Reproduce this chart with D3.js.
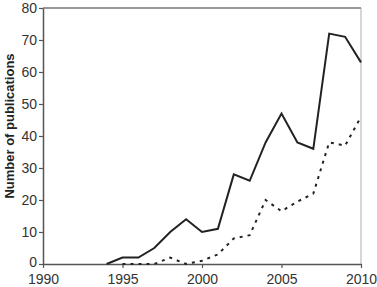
<!DOCTYPE html>
<html>
<head>
<meta charset="utf-8">
<script src="https://cdn.jsdelivr.net/npm/d3@7"></script>
<style>
  body { margin: 0; background: #fff; }
  text { font-family: "Liberation Sans", Arial, sans-serif; }
</style>
</head>
<body>
<svg id="chart"></svg>
<script>
// data
var yearsSolid = [1994, 1995, 1996, 1997, 1998, 1999, 2000, 2001, 2002, 2003, 2004, 2005, 2006, 2007, 2008, 2009, 2010];
var countsSolid = [0, 2, 2, 5, 10, 14, 10, 11, 28, 26, 38, 47, 38, 36, 72, 71, 63];
var yearsDotted = [1995, 1996, 1997, 1998, 1999, 2000, 2001, 2002, 2003, 2004, 2005, 2006, 2007, 2008, 2009, 2010];
var countsDotted = [0, 0, 0, 2, 0, 1, 3, 8, 9, 20, 16.5, 19.5, 22, 38, 37, 46];
var xTicks = [1990, 1995, 2000, 2005, 2010];
var yTicks = [0, 10, 20, 30, 40, 50, 60, 70, 80];

var margin = { top: 8, right: 16, bottom: 23, left: 43 },
  width = 377 - margin.left - margin.right,
  height = 287 - margin.top - margin.bottom;

var svg = d3.select("#chart")
  .attr("width", 377)
  .attr("height", 287);

var g = svg.append("g")
  .attr("transform", "translate(" + margin.left + "," + margin.top + ")");

var x = d3.scaleLinear().domain([1990, 2010]).range([0, width]);
var y = d3.scaleLinear().domain([0, 80]).range([height, 0]);

// top and right frame
g.append("line")
  .attr("x1", 0).attr("x2", width).attr("y1", 0).attr("y2", 0)
  .attr("stroke", "#777").attr("stroke-width", 1.5);
g.append("line")
  .attr("x1", width).attr("x2", width).attr("y1", 0).attr("y2", height)
  .attr("stroke", "#999").attr("stroke-width", 0.8);

// axes
var xAxis = g.append("g")
  .attr("transform", "translate(0," + height + ")")
  .call(d3.axisBottom(x).tickValues(xTicks).tickFormat(d3.format("d")).tickSize(4).tickSizeOuter(0));
var yAxis = g.append("g")
  .call(d3.axisLeft(y).tickValues(yTicks).tickSize(4).tickSizeOuter(0));

[xAxis, yAxis].forEach(function (a) {
  a.select(".domain").attr("stroke", "#555").attr("stroke-width", 1.5);
  a.selectAll(".tick line").attr("stroke", "#555").attr("stroke-width", 1.2);
  a.selectAll("text")
    .attr("fill", "#333")
    .style("font-size", "14px")
    .style("font-family", "Liberation Sans, Arial, sans-serif");
});
xAxis.selectAll("text").attr("dy", "0.9em");
yAxis.selectAll("text").attr("x", -6);
// nudge the 0 label up a little so it clears 1990
yAxis.selectAll(".tick text").filter(function (d) { return d === 0; }).attr("dy", "0.15em");

// y title
svg.append("text")
  .attr("transform", "translate(14," + (margin.top + 118) + ") rotate(-90)")
  .attr("text-anchor", "middle")
  .style("font-size", "13px")
  .style("font-weight", "bold")
  .attr("fill", "#222")
  .text("Number of publications");

var line = d3.line()
  .x(function (d) { return x(d[0]); })
  .y(function (d) { return y(d[1]); });

var solid = yearsSolid.map(function (yr, i) { return [yr, countsSolid[i]]; });
var dotted = yearsDotted.map(function (yr, i) { return [yr, countsDotted[i]]; });

g.append("path")
  .datum(dotted)
  .attr("d", line)
  .attr("fill", "none")
  .attr("stroke", "#222")
  .attr("stroke-width", 2)
  .attr("stroke-dasharray", "3,5");

g.append("path")
  .datum(solid)
  .attr("d", line)
  .attr("fill", "none")
  .attr("stroke", "#222")
  .attr("stroke-width", 2)
  .attr("stroke-linejoin", "miter");
</script>
</body>
</html>
